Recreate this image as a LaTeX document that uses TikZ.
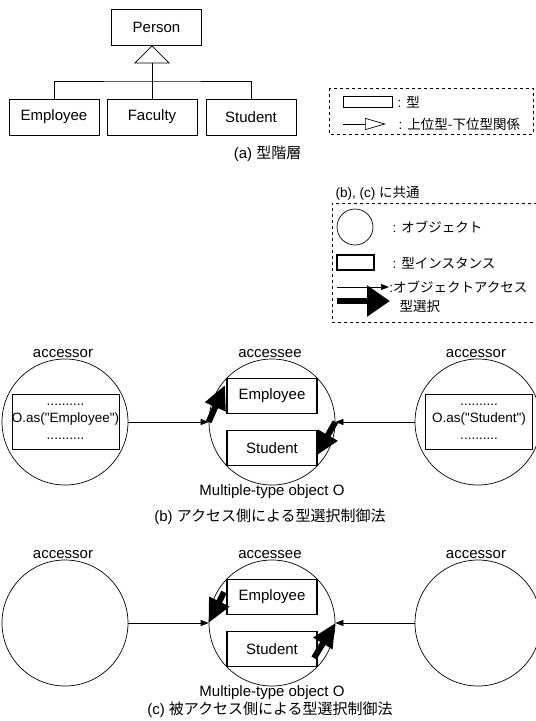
\documentclass[tikz,border=0pt]{standalone}
\usepackage{fontspec}
\setmainfont{Liberation Sans}
\newfontfamily\jpfont{Noto Sans CJK JP}
\usetikzlibrary{arrows.meta,positioning}

\tikzset{
  typebox/.style={draw, line width=0.8pt, minimum width=90pt, minimum height=36pt, inner sep=0pt},
  instbox/.style={draw, line width=1.6pt, minimum width=90pt, minimum height=35pt, inner sep=0pt},
  objcircle/.style={draw, circle, minimum size=126pt, inner sep=0pt},
  codebox/.style={draw, minimum width=107pt, minimum height=55pt, inner sep=0pt, align=center,
    font=\fontsize{13.5}{17}\selectfont},
  access/.style={-{Triangle[length=8pt,width=6pt]}},
  selarrow/.style={line width=6pt, -{Triangle[length=24pt,width=21pt]}},
  legend/.style={font=\fontsize{13.5}{16}\selectfont},
}
\newcommand{\dq}{\textquotedbl}

\begin{document}
\begin{tikzpicture}[x=1pt,y=-1pt, line width=0.7pt, font=\fontsize{15}{18}\selectfont]
\useasboundingbox (0,0) rectangle (536,721);
% (a) type hierarchy
\node[typebox] (person) at (156.5,27) {Person};
\foreach \type/\name/\x in {Employee/employee/54,Faculty/faculty/152,Student/student/251}{
  \node[typebox] (\name) at (\x,117) {\type};
}
\coordinate (joint) at (152,81);
\draw (employee.north) |- (joint) -| (student.north);
\draw[-{Triangle[open,length=18pt,width=36pt]}] (faculty.north) -- (faculty.north |- person.south);
\node[anchor=east] (caption-a) at (305,154) {(a) {\jpfont 型階層}};

% legend of (a)
\draw[dashed] (329,88) rectangle (533,134);
\node[draw, minimum width=49pt, minimum height=11pt, inner sep=0pt] (key-type) at (367.5,102) {};
\node[legend, anchor=west] (key-type-text) at (394,102) {: {\jpfont 型}};
\coordinate (key-gen) at (343,124);
\node[legend, anchor=west] (key-gen-text) at (395,124) {: {\jpfont 上位型-下位型関係}};
\draw[-{Triangle[open,length=21pt,width=12pt]}] (key-gen) -- (386,124);

% legend of (b), (c)
\node[legend, anchor=west] (common) at (332,193) {(b), (c) {\jpfont に共通}};
\draw[dashed] (537,203) -- (332,203) -- (332,322) -- (537,322);
\node[draw, circle, minimum size=36pt, inner sep=0pt] (key-obj) at (355,227) {};
\node[legend, anchor=west] (key-obj-text) at (389,227) {: {\jpfont オブジェクト}};
\node[draw, line width=1.6pt, minimum width=37pt, minimum height=15pt, inner sep=0pt] (key-inst) at (355.5,262.5) {};
\node[legend, anchor=west] (key-inst-text) at (389,263) {: {\jpfont 型インスタンス}};
\coordinate (key-acc) at (337,287);
\node[legend, anchor=west, inner sep=0pt] (key-acc-text) at (389,287) {:{\jpfont オブジェクトアクセス}};
\draw[access] (key-acc) -- (key-acc-text.west);
\coordinate (key-sel) at (337,301);
\coordinate (key-sel-tip) at (390,301);
\node[legend, anchor=west] (key-sel-text) at (396,306) {\jpfont 型選択};
\draw[line width=6pt, -{Triangle[length=23pt,width=30pt]}] (key-sel) -- (key-sel-tip);

% (b) and (c)
\foreach \part/\y/\cy/\method in {b/422/517/{アクセス側による型選択制御法},c/623/710/{被アクセス側による型選択制御法}}{
  \node[objcircle] (accl-\part) at (65,\y) {};
  \node[objcircle] (obj-\part) at (272,\y) {};
  \node[objcircle] (accr-\part) at (478,\y) {};
  \node (accl-label-\part) at (63,\y-68) {accessor};
  \node (obj-label-\part) at (270,\y-68) {accessee};
  \node (accr-label-\part) at (476,\y-68) {accessor};
  \node[instbox] (emp-\part) at (272,\y-26) {Employee};
  \node[instbox] (stu-\part) at (272,\y+26) {Student};
  \draw[access] (accl-\part) -- (obj-\part);
  \draw[access] (accr-\part) -- (obj-\part);
  \node (obj-name-\part) at (272,\y+70) {Multiple-type object O};
  \node (caption-\part) at (270,\cy) {(\part) {\jpfont\method}};
}
\node[codebox] (code-l) at (65.5,421.5) {..........\\O.as(\dq Employee\dq)\\..........};
\node[codebox] (code-r) at (479,421.5) {..........\\O.as(\dq Student\dq)\\..........};

% type selection
\coordinate (pick-b-emp) at (225,385);
\coordinate (pick-b-stu) at (316,456);
\draw[selarrow] (obj-b.west) -- (pick-b-emp);
\draw[selarrow] (obj-b.east) -- (pick-b-stu);
\coordinate (from-c-emp) at (224,592);
\coordinate (from-c-stu) at (314,658);
\draw[selarrow] (from-c-emp) -- (obj-c.west);
\draw[selarrow] (from-c-stu) -- (obj-c.east);
\end{tikzpicture}
\end{document}
